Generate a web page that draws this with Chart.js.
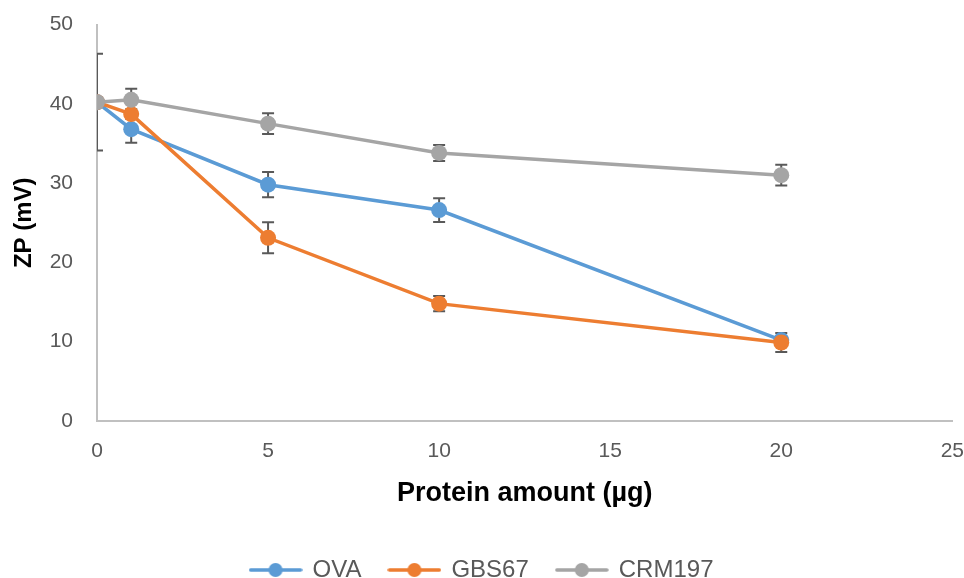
<!DOCTYPE html>
<html>
<head>
<meta charset="utf-8">
<script src="https://cdn.jsdelivr.net/npm/chart.js@4/dist/chart.umd.min.js"></script>
<style>
  html, body { margin: 0; padding: 0; background: #ffffff; }
  #wrap { width: 964px; height: 578px; }
</style>
</head>
<body>
<div id="wrap"><canvas id="chart" width="964" height="578"></canvas></div>
<script>
// Protein amount (µg) on the x axis
const amounts = [0, 1, 5, 10, 20];

// Zeta potential (mV) per formulation
const ova    = [40.2, 36.8, 29.8, 26.6, 10.2];
const gbs67  = [40.2, 38.7, 23.1, 14.8, 9.9];
const crm197 = [40.2, 40.5, 37.5, 33.8, 31.0];

// Standard deviations
const ovaErr    = [6.1, 1.7, 1.6, 1.5, 0.5];
const gbs67Err  = [0.5, 0.6, 1.95, 0.95, 1.2];
const crm197Err = [0.5, 1.4, 1.3, 1.0, 1.3];

const seriesNames = ['OVA', 'GBS67', 'CRM197'];
const seriesColors = ['#5B9BD5', '#ED7D31', '#A5A5A5'];

const toPoints = (vals) => vals.map((v, i) => ({ x: amounts[i], y: v }));

// Line-with-marker icons for the legend
function legendIcon(color) {
  const c = document.createElement('canvas');
  c.width = 54; c.height = 16;
  const g = c.getContext('2d');
  g.strokeStyle = color;
  g.lineWidth = 3.5;
  g.lineCap = 'round';
  g.beginPath(); g.moveTo(2, 8); g.lineTo(52, 8); g.stroke();
  g.fillStyle = color;
  g.beginPath(); g.arc(27, 8, 7, 0, Math.PI * 2); g.fill();
  return c;
}
const legendIcons = seriesColors.map(legendIcon);

// Vertical error bars with caps, drawn beneath lines and markers
const errorBars = {
  id: 'errorBars',
  beforeDatasetsDraw(chart) {
    const { ctx, chartArea, scales } = chart;
    ctx.save();
    ctx.beginPath();
    ctx.rect(chartArea.left, chartArea.top - 20, chartArea.right - chartArea.left, chartArea.bottom - chartArea.top + 40);
    ctx.clip();
    ctx.strokeStyle = '#595959';
    ctx.lineWidth = 2;
    chart.data.datasets.forEach((ds) => {
      ds.data.forEach((p, i) => {
        const e = ds.errors[i];
        const x = scales.x.getPixelForValue(p.x);
        const yTop = scales.y.getPixelForValue(p.y + e);
        const yBot = scales.y.getPixelForValue(p.y - e);
        ctx.beginPath();
        ctx.moveTo(x, yTop); ctx.lineTo(x, yBot);
        ctx.moveTo(x - 6, yTop); ctx.lineTo(x + 6, yTop);
        ctx.moveTo(x - 6, yBot); ctx.lineTo(x + 6, yBot);
        ctx.stroke();
      });
    });
    ctx.restore();
  }
};

const makeDataset = (idx, vals, errs, order) => ({
  label: seriesNames[idx],
  data: toPoints(vals),
  errors: errs,
  borderColor: seriesColors[idx],
  backgroundColor: seriesColors[idx],
  pointBackgroundColor: seriesColors[idx],
  pointBorderColor: seriesColors[idx],
  pointRadius: 8,
  pointBorderWidth: 0,
  borderWidth: 3.5,
  tension: 0,
  fill: false,
  order: order
});

const tickFont = { family: "'Liberation Sans', Arial, sans-serif", size: 21 };

new Chart(document.getElementById('chart'), {
  type: 'line',
  data: {
    datasets: [
      makeDataset(0, ova, ovaErr, 2),
      makeDataset(1, gbs67, gbs67Err, 1),
      makeDataset(2, crm197, crm197Err, 0)
    ]
  },
  options: {
    responsive: false,
    devicePixelRatio: 1,
    animation: false,
    layout: { padding: { top: 24.5, right: 0, left: 0, bottom: -14 } },
    scales: {
      x: {
        type: 'linear',
        min: 0, max: 25,
        grid: { display: true, drawOnChartArea: false, drawTicks: true, tickLength: 18, color: 'rgba(0,0,0,0)' },
        border: { display: true, color: '#C0C0C0', width: 2 },
        ticks: { stepSize: 5, color: '#595959', font: tickFont, padding: 0, maxRotation: 0 },
        title: {
          display: true,
          text: 'Protein amount (µg)',
          color: '#000000',
          font: { family: "'Liberation Sans', Arial, sans-serif", size: 27, weight: 'bold' },
          padding: { top: 0, bottom: 20 }
        },
        afterFit(scale) { scale.height = 109; }
      },
      y: {
        min: 0, max: 50,
        grid: { display: true, drawOnChartArea: false, drawTicks: true, tickLength: 24, color: 'rgba(0,0,0,0)' },
        border: { display: true, color: '#C0C0C0', width: 2 },
        ticks: { stepSize: 10, color: '#595959', font: tickFont, padding: 0 },
        title: {
          display: true,
          text: 'ZP (mV)',
          color: '#000000',
          font: { family: "'Liberation Sans', Arial, sans-serif", size: 24, weight: 'bold' },
          padding: { top: 10, bottom: 0 }
        },
        afterFit(scale) { scale.width = 97; }
      }
    },
    plugins: {
      tooltip: { enabled: false },
      legend: {
        position: 'bottom',
        labels: {
          usePointStyle: true,
          pointStyleWidth: 50,
          padding: 28,
          color: '#595959',
          font: { family: "'Liberation Sans', Arial, sans-serif", size: 24 },
          sort: (a, b) => a.datasetIndex - b.datasetIndex,
          generateLabels(chart) {
            const items = Chart.defaults.plugins.legend.labels.generateLabels(chart);
            items.forEach((it) => { it.pointStyle = legendIcons[it.datasetIndex]; });
            return items;
          }
        }
      }
    }
  },
  plugins: [errorBars]
});
</script>
</body>
</html>
